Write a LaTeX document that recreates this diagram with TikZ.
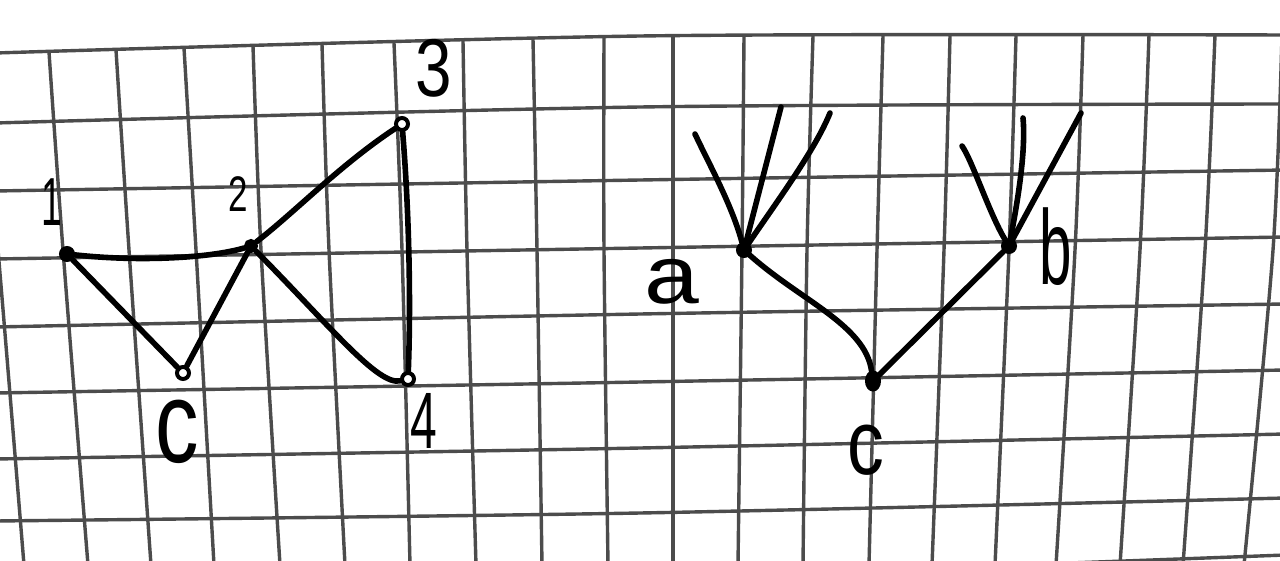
\documentclass[tikz,border=0pt]{standalone}
\usepackage{graphicx}
\usepackage{fontspec}
\newfontfamily\hwfont{Liberation Sans}
\usetikzlibrary{shapes.geometric}
\newcommand\hwtext[3]{\hwfont\fontsize{#1}{#1}\selectfont\scalebox{#2}[1]{#3}}
\begin{document}
\begin{tikzpicture}[x=1pt,y=-1pt,
  gridline/.style={line width=3.4pt, draw=black!70},
  ink/.style={line width=5.6pt, draw=black, line cap=round, line join=round},
  vtx/.style={circle, draw=black, line width=4pt, fill=white, inner sep=0pt, minimum size=12pt},
  vtxf/.style={vtx, fill=black},
  lbl/.style={inner sep=0pt, text=black}]
\useasboundingbox (0,0) rectangle (1280,560);
\fill[white] (0,0) rectangle (1280,560);
% squared paper
\begin{scope}
\clip (0,0) rectangle (1280,560);
\foreach \p/\q/\r in {53/36/35, 123/107/104, 191/180/170, 259/248/237, 327/314/304,
                      393/382/370, 459/448/434, 521/513/498, 585/577/555}
  \draw[gridline] plot[smooth] coordinates {(-5,\p) (640,\q) (1285,\r)};
\foreach \a/\t/\b/\c in {-20/54/-2/24, 49/52/63/88, 116/50/129/151, 184/48/196/214,
   253/46/261/280, 322/44/329/345, 394/43/402/410, 463/41/467/476, 533/39/537/542,
   604/37/604/608, 673/36/673/673, 744/36/742/738, 813/36/807/803, 883/36/877/869,
   950/36/944/932, 1016/36/1009/995, 1083/35/1075/1056, 1149/35/1140/1120,
   1215/35/1205/1183, 1282/35/1273/1244}
  \draw[gridline] plot[smooth] coordinates {(\a,\t) (\b,250) (\c,565)};
\end{scope}

% ---------- left graph ----------
\node[vtxf] (v1) at (67,254) {};
\node[vtxf, minimum size=10pt] (v2) at (251,246) {};
\node[vtx] (v3) at (402,124) {};
\node[vtx] (v4) at (408,379) {};
\node[vtx] (vc) at (183,373) {};

\draw[ink] (v1) .. controls (140,262) and (210,258) .. (v2);
\draw[ink] (v1) -- (vc);
\draw[ink] (vc) -- (v2);
\draw[ink] (v2) .. controls (295,212) and (340,165) .. (v3);
\draw[ink] (v3) .. controls (409,210) and (411,300) .. (v4);
\draw[ink] (v2) .. controls (330,326) and (378,386) .. (v4);

\node[lbl] (l1) at (52,202) {\hwtext{68}{0.55}{1}};
\node[lbl] (l2) at (238,194) {\hwtext{50}{0.7}{2}};
\node[lbl] (l3) at (434,68) {\hwtext{82}{0.8}{3}};
\node[lbl] (l4) at (424,421) {\hwtext{80}{0.6}{4}};
\node[lbl] (lc1) at (177,432) {\hwtext{116}{0.75}{c}};

% ---------- right graph ----------
\node[vtxf] (a) at (744,250) {};
\node[vtxf] (b) at (1009,246) {};
\node[vtxf, ellipse, minimum width=12pt, minimum height=17pt] (c) at (873,381) {};

\coordinate (a1) at (695,134);
\coordinate (a2) at (781,107);
\coordinate (a3) at (830,113);
\coordinate (b1) at (962,146);
\coordinate (b2) at (1023,118);
\coordinate (b3) at (1081,113);

\draw[ink] (a) .. controls (800,300) and (865,325) .. (c);
\draw[ink] (c) -- (b);
\draw[ink] (a1) .. controls (708,162) and (732,205) .. (a);
\draw[ink] (a2) -- (a);
\draw[ink] (a) .. controls (778,200) and (815,150) .. (a3);
\draw[ink] (b1) .. controls (972,160) and (990,215) .. (b);
\draw[ink] (b2) .. controls (1026,150) and (1018,200) .. (b);
\draw[ink] (b3) -- (b);

\node[lbl] (la) at (672,282) {\hwtext{82}{1.2}{a}};
\node[lbl] (lb) at (1056,247) {\hwtext{106}{0.55}{b}};
\node[lbl] (lc2) at (866,450) {\hwtext{92}{0.8}{c}};
\end{tikzpicture}
\end{document}
